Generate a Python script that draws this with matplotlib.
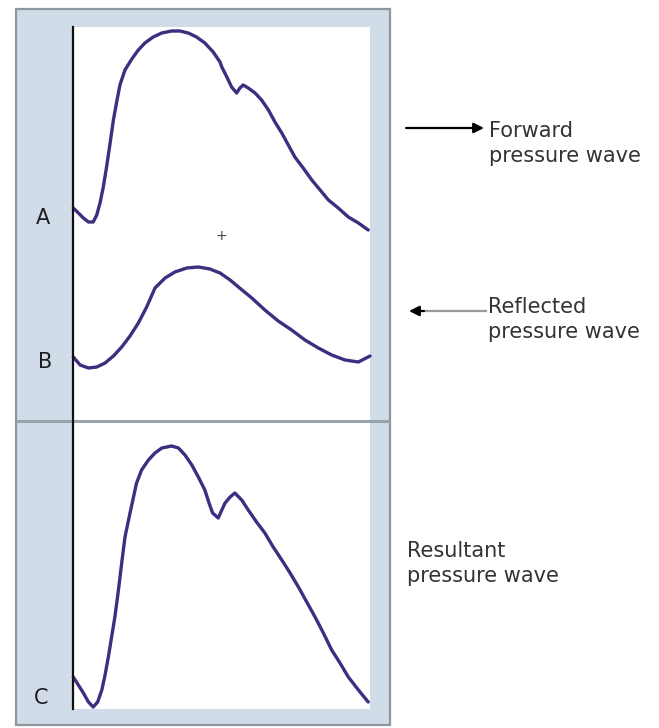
import matplotlib
matplotlib.use("Agg")
import matplotlib.pyplot as plt
from matplotlib.patches import Rectangle

# ── data: time as % of the cycle, pressure in arbitrary units ────────────────
forward_t = [0.1, 1.8, 3.5, 5.2, 6.8, 8.0, 9.1, 10.2, 11.3, 12.5, 13.6, 14.7,
             15.8, 17.5, 19.8, 22.0, 24.2, 27.0, 29.9, 33.2, 36.0, 38.8, 41.6,
             44.4, 47.2, 49.5, 50.1, 51.8, 53.4, 55.1, 56.2, 57.3, 59.0, 61.3,
             63.5, 65.8, 68.0, 70.3, 72.5, 74.7, 77.5, 80.4, 83.2, 86.0, 89.3,
             92.7, 96.1, 99.4]
forward_p = [501, 496, 491, 487, 487, 494, 506, 522, 542, 566, 589, 607,
             624, 639, 650, 659, 666, 672, 676, 678, 678, 676, 672,
             666, 657, 647, 642, 632, 622, 616, 621, 624, 621, 616,
             609, 599, 587, 576, 564, 552, 541, 529, 519, 509, 501,
             492, 486, 479]

reflected_t = [0.1, 2.4, 5.2, 8.0, 10.8, 13.6, 16.4, 19.2, 22.0, 24.8, 27.6,
               31.0, 34.3, 38.3, 42.2, 46.1, 49.5, 52.9, 55.7, 60.2, 64.6,
               69.1, 73.6, 78.1, 82.6, 87.1, 91.6, 96.1, 100]
reflected_p = [352, 344, 341, 342, 346, 353, 362, 373, 386, 402, 421,
               431, 437, 441, 442, 440, 436, 429, 422, 411, 399,
               388, 379, 369, 361, 354, 349, 347, 353]

resultant_t = [0.1, 1.8, 3.5, 5.2, 6.8, 8.3, 9.7, 10.8, 11.9, 13.0, 14.1, 15.3,
               16.4, 17.5, 19.2, 21.4, 23.1, 25.4, 27.6, 29.9, 33.2, 35.5,
               37.7, 40.0, 42.2, 44.4, 45.8, 47.0, 48.9, 50.1, 51.2, 52.9,
               54.5, 56.8, 59.0, 61.8, 64.6, 67.4, 70.3, 73.1, 75.9, 78.7,
               81.5, 84.3, 87.1, 89.9, 92.7, 96.1, 99.4]
resultant_p = [32, 24, 16, 7, 2, 7, 19, 34, 52, 72, 92, 119,
               146, 172, 196, 226, 239, 249, 256, 261, 263, 261,
               254, 244, 232, 219, 206, 196, 191, 199, 206, 212,
               216, 209, 199, 187, 176, 162, 149, 136, 122, 107,
               92, 76, 59, 46, 32, 19, 7]

wave_labels = ["A", "B", "C"]
side_labels = [("Forward", "pressure wave"),
               ("Reflected", "pressure wave"),
               ("Resultant", "pressure wave")]

# ── colours ─────────────────────────────────────────────────────────────────
BLUE = "#d0dde9"
EDGE = "#8e979f"
WAVE = "#3f2d80"
TEXT = "#333333"

W, H = 659, 728
fig = plt.figure(figsize=(W / 100, H / 100), dpi=100)

# background layer in pixel units for the frame, arrows and labels
bg = fig.add_axes([0, 0, 1, 1])
bg.set_xlim(0, W)
bg.set_ylim(H, 0)
bg.axis("off")

bg.add_patch(Rectangle((16, 9), 374, 716, facecolor=BLUE, edgecolor=EDGE, lw=1.6))
bg.add_patch(Rectangle((72, 27), 298, 682, facecolor="white", edgecolor="none"))
bg.plot([16, 390], [421, 421], color="#9aa2aa", lw=2.2, solid_capstyle="butt")

# letter labels
for lab, (x, y) in zip(wave_labels, [(43, 218), (45, 362), (41, 698)]):
    bg.text(x, y, lab, ha="center", va="center", fontsize=15, color="#1e1e1e")

bg.text(221, 236, "+", ha="center", va="center", fontsize=10, color="#444444")

# arrows
bg.annotate("", xy=(484, 128), xytext=(406, 128),
            arrowprops=dict(arrowstyle="-|>", color="black", lw=1.6,
                            mutation_scale=15, shrinkA=0, shrinkB=0))
bg.plot([420, 486], [311, 311], color="#9a9a9a", lw=1.6)
bg.annotate("", xy=(409, 311), xytext=(424, 311),
            arrowprops=dict(arrowstyle="-|>", color="black", lw=1.6,
                            mutation_scale=15, shrinkA=0, shrinkB=0))

# side texts (baseline anchored)
for (l1, l2), (x, y) in zip(side_labels, [(489, 137), (488, 313), (407, 557)]):
    bg.text(x, y, l1, ha="left", va="baseline", fontsize=15, color=TEXT)
    bg.text(x, y + 25, l2, ha="left", va="baseline", fontsize=15, color=TEXT)

# ── waveform axes over the white area ───────────────────────────────────────
ax = fig.add_axes([73 / W, 1 - 709 / H, 297 / W, 682 / H])
ax.set_xlim(0, 100)
ax.set_ylim(0, 682)
ax.patch.set_alpha(0)
for side in ("top", "right", "bottom"):
    ax.spines[side].set_visible(False)
ax.spines["left"].set_color("#111111")
ax.spines["left"].set_linewidth(1.6)
ax.set_xticks([])
ax.set_yticks([])

for t, p in [(forward_t, forward_p), (reflected_t, reflected_p),
             (resultant_t, resultant_p)]:
    ax.plot(t, p, color=WAVE, lw=2.4, solid_joinstyle="round",
            solid_capstyle="round", clip_on=False)

fig.savefig("out.png", dpi=100)
